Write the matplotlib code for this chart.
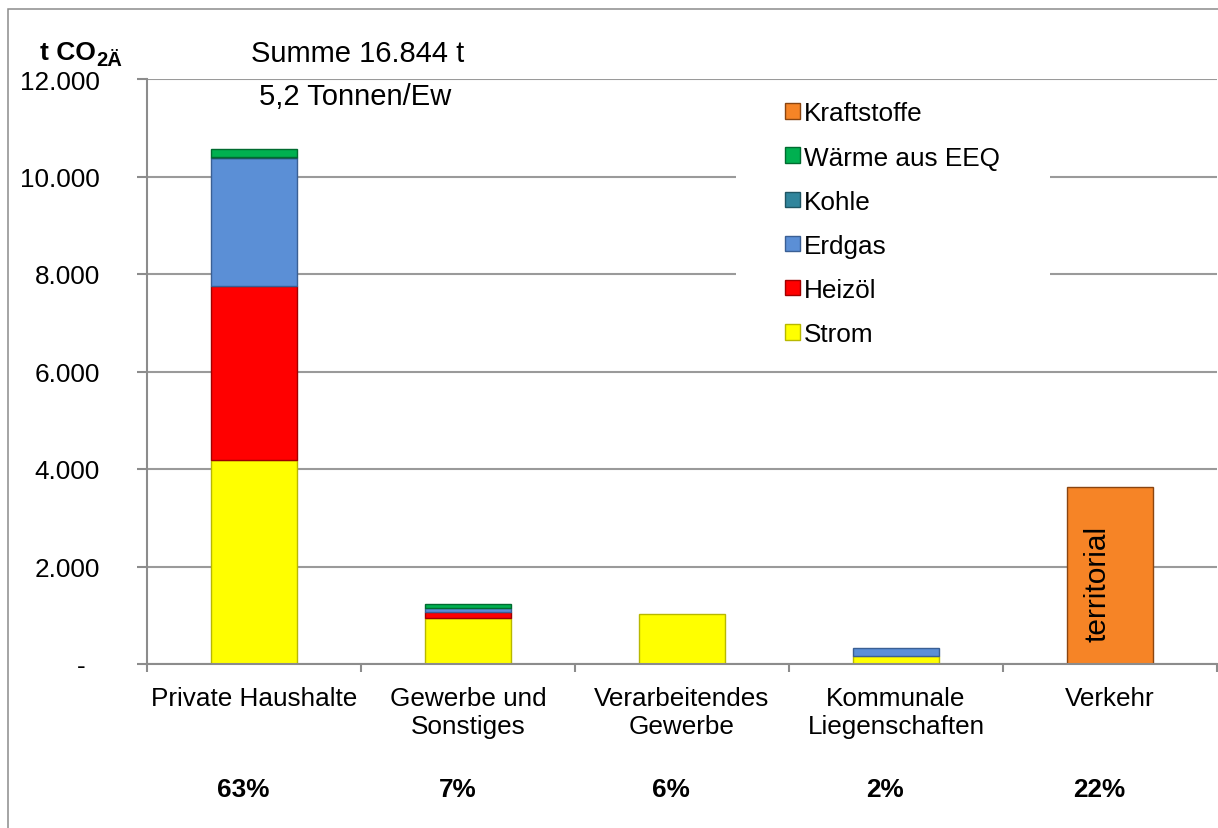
import numpy as np
import matplotlib.pyplot as plt
from matplotlib.patches import Rectangle, Patch

plt.rcParams.update({
    "font.family": ["Liberation Sans", "DejaVu Sans"],
    "font.size": 18.8,
})

categories = ["Private Haushalte", "Gewerbe und\nSonstiges", "Verarbeitendes\nGewerbe",
              "Kommunale\nLiegenschaften", "Verkehr"]
shares = ["63%", "7%", "6%", "2%", "22%"]

strom = [4190, 940, 1025, 170, 0]
heizoel = [3560, 120, 0, 0, 0]
erdgas = [2630, 85, 0, 160, 0]
kohle = [20, 0, 0, 0, 0]
waerme = [160, 80, 0, 0, 0]
kraftstoffe = [0, 0, 0, 0, 3630]

series = [
    ("Strom", strom, "#ffff00", "#b8b800"),
    ("Heizöl", heizoel, "#ff0000", "#a00000"),
    ("Erdgas", erdgas, "#5b8fd6", "#3a5f94"),
    ("Kohle", kohle, "#31859c", "#1f5563"),
    ("Wärme aus EEQ", waerme, "#00b050", "#006b30"),
    ("Kraftstoffe", kraftstoffe, "#f68426", "#8a4510"),
]

yticks = [0, 2000, 4000, 6000, 8000, 10000, 12000]
ytick_labels = ["-  ", "2.000", "4.000", "6.000", "8.000", "10.000", "12.000"]

W, H = 1218, 829
fig = plt.figure(figsize=(W / 100, H / 100), dpi=100)
ax = fig.add_axes([147 / W, 1 - 665 / H, 1070 / W, 585 / H])

x = np.arange(len(categories)) + 0.5
bottom = np.zeros(len(categories))
handles = []
for name, vals, col, edge in series:
    vals = np.array(vals, dtype=float)
    m = vals > 0
    ax.bar(x[m], vals[m], width=0.405, bottom=bottom[m], color=col, edgecolor=edge,
           linewidth=1.0, zorder=2)
    bottom += vals
    handles.append(Patch(facecolor=col, edgecolor=edge, label=name))

ax.set_xlim(0, len(categories))
ax.set_ylim(0, 12000)
ax.set_yticks(yticks)
ax.set_yticklabels(ytick_labels)
ax.set_xticks(x)
ax.set_xticklabels(categories)
ax.set_xticks(np.arange(len(categories) + 1), minor=True)

grey = "#8c8c8c"
ax.grid(axis="y", color="#9a9a9a", linewidth=1.5)
ax.set_axisbelow(True)
for s in ["top", "right"]:
    ax.spines[s].set_visible(False)
for s in ["left", "bottom"]:
    ax.spines[s].set_color(grey)
    ax.spines[s].set_linewidth(1.5)
ax.tick_params(axis="y", length=7, width=1.5, color=grey, pad=27)
ax.tick_params(axis="x", which="major", length=0, pad=16)
ax.tick_params(axis="x", which="minor", length=6, width=1.5, color=grey)

# white box behind legend hides the gridlines
ax.add_patch(Rectangle((0.5505, 0.53), 0.2935, 0.453, transform=ax.transAxes,
                       facecolor="white", edgecolor="none", zorder=1))
ax.legend(handles=handles[::-1], loc="upper left", bbox_to_anchor=(0.5845, 0.984),
          frameon=False, borderpad=0, handlelength=0.55, handleheight=0.55,
          handletextpad=0.15, labelspacing=0.77, fontsize=18.8)

for xi, s in zip(x, shares):
    ax.text(xi - 0.05, -0.2137, s, transform=ax.get_xaxis_transform(),
            ha="center", va="center", fontweight="bold", fontsize=18.8)

ax.text(x[-1] - 0.06, 1660, "territorial", rotation=90, ha="center", va="center",
        fontsize=21.5, zorder=3)

fig.text(358 / W, 1 - 54 / H, "Summe 16.844 t", ha="center", va="center", fontsize=21)
fig.text(355 / W, 1 - 97 / H, "5,2 Tonnen/Ew", ha="center", va="center", fontsize=21)

# unit label: "t CO" with a bold subscript "2Ä"
t1 = fig.text(40 / W, 1 - 60 / H, "t CO", ha="left", va="baseline",
              fontsize=19, fontweight="bold")
fig.canvas.draw()
bb = t1.get_window_extent()
fig.text(bb.x1 / W, 1 - 66 / H, "2Ä", ha="left", va="baseline",
         fontsize=14.5, fontweight="bold")

# outer chart frame (cut off at right and bottom)
fig.patches.append(Rectangle((8 / W, -0.1), 1.2, 1.1 - 10 / H, transform=fig.transFigure,
                             facecolor="none", edgecolor=grey, linewidth=1.1))

fig.savefig("out.png", dpi=100)
